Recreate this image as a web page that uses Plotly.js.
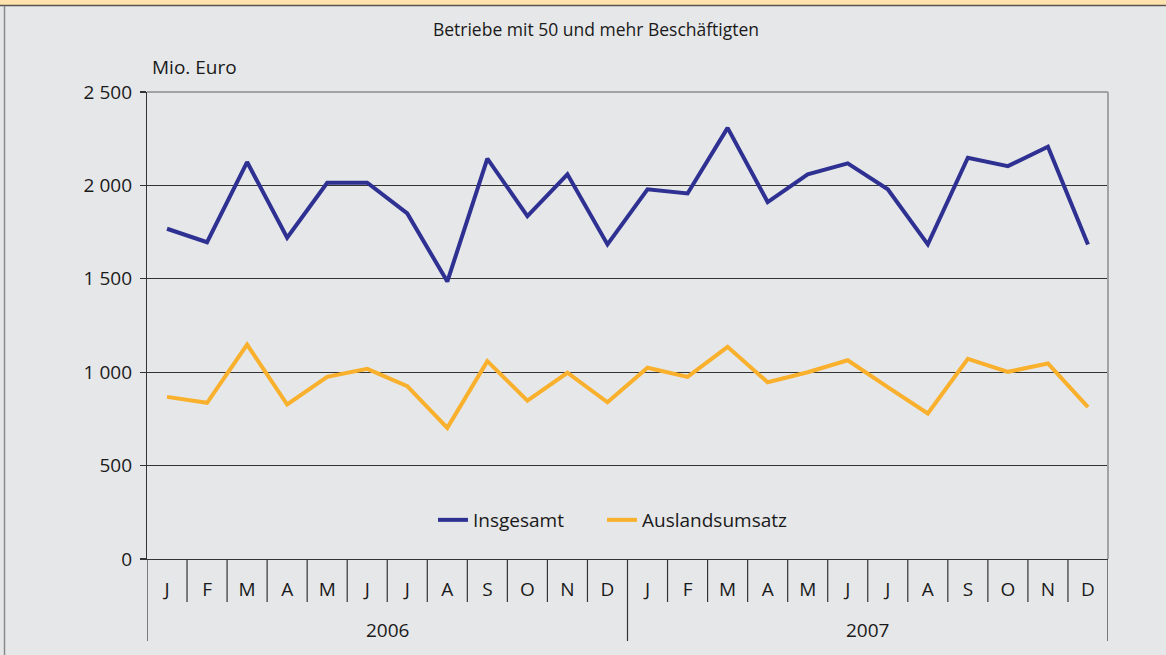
<!DOCTYPE html>
<html>
<head>
<meta charset="utf-8">
<script src="https://cdn.plot.ly/plotly-3.0.1.min.js"></script>
<style>html,body{margin:0;padding:0;background:#E6E7E9;}#chart{width:1166px;height:655px;}</style>
</head>
<body>
<div id="chart"></div>
<script>
const months = ['J','F','M','A','M','J','J','A','S','O','N','D'];
const years = ['2006','2007'];
const insgesamt = [1768,1696,2125,1720,2014,2014,1850,1485,2143,1836,2059,1684,
                   1979,1957,2308,1911,2059,2118,1979,1684,2148,2103,2207,1684];
const ausland = [868,836,1148,827,975,1018,925,702,1059,848,997,839,
                 1024,975,1136,946,1000,1064,920,779,1072,1002,1047,813];
const yTickVals = [0,500,1000,1500,2000,2500];
const yTickText = ['0','500','1 000','1 500','2 000','2 500'];
const seriesNames = ['Insgesamt','Auslandsumsatz'];
const chartTitle = 'Betriebe mit 50 und mehr Beschäftigten';
const unitLabel = 'Mio. Euro';

const W = 1166, H = 655, L = 147, R = 58, T = 92, B = 96;
const pw = W - L - R, ph = H - T - B;
const px = x => (x - L) / pw;
const py = y => (H - B - y) / ph;

const n = months.length * years.length;
const xs = Array.from({length: n}, (_, i) => i);
const tickText = xs.map(i => months[i % months.length]);

const font = 'Open Sans, sans-serif';
const FS = 19;
const traces = [
  {x: xs, y: insgesamt, name: seriesNames[0], type: 'scatter', mode: 'lines', legend: 'legend',
   line: {color: '#2E3192', width: 4}},
  {x: xs, y: ausland, name: seriesNames[1], type: 'scatter', mode: 'lines', legend: 'legend2',
   line: {color: '#F9B02C', width: 4}}
];

const shapes = [];
// frame
shapes.push({type: 'rect', xref: 'paper', yref: 'paper', x0: px(0), x1: px(W), y0: py(0), y1: py(5),
  fillcolor: '#FFE3AE', line: {width: 0}});
shapes.push({type: 'line', xref: 'paper', yref: 'paper', x0: px(0), x1: px(W), y0: py(5.5), y1: py(5.5),
  line: {color: '#5A5550', width: 1.5}});
shapes.push({type: 'line', xref: 'paper', yref: 'paper', x0: px(4.5), x1: px(4.5), y0: py(6), y1: py(H),
  line: {color: '#8A8A8A', width: 1.5}});
// plot top and right border (grey)
shapes.push({type: 'line', xref: 'paper', yref: 'paper', x0: 0, x1: 1, y0: 1, y1: 1,
  line: {color: '#A3A3A3', width: 2}});
shapes.push({type: 'line', xref: 'paper', yref: 'paper', x0: 1, x1: 1, y0: 0, y1: 1,
  line: {color: '#A3A3A3', width: 2}});
// month dividers and year dividers
for (let i = 0; i <= n; i++) {
  const isYear = i % months.length === 0;
  shapes.push({type: 'line', xref: 'x', yref: 'paper', x0: i - 0.5, x1: i - 0.5,
    y0: 0, y1: py(isYear ? 641 : 602), line: {color: '#333333', width: 1.2}});
}

const annotations = [];
annotations.push({xref: 'paper', yref: 'paper', x: px(150), y: py(67), xanchor: 'left', yanchor: 'middle',
  text: unitLabel, showarrow: false, font: {family: font, size: FS, color: '#1a1a1a'}});
years.forEach((yr, k) => {
  annotations.push({xref: 'x', yref: 'paper', x: k * months.length + (months.length - 1) / 2, y: py(630),
    xanchor: 'center', yanchor: 'middle', text: yr, showarrow: false,
    font: {family: font, size: FS, color: '#1a1a1a'}});
});

const legendBase = {orientation: 'h', xanchor: 'left', yanchor: 'middle', y: py(520),
  bgcolor: 'rgba(0,0,0,0)', font: {family: font, size: FS, color: '#1a1a1a'}};

const layout = {
  width: W, height: H,
  margin: {l: L, r: R, t: T, b: B, pad: 0},
  paper_bgcolor: '#E6E7E9', plot_bgcolor: '#E6E7E9',
  title: {text: chartTitle, xref: 'container', x: 596 / W, xanchor: 'center', yref: 'container',
    y: 1 - 30 / H, yanchor: 'middle',
    font: {family: font, size: 17.5, color: '#1a1a1a'}},
  showlegend: true,
  legend: Object.assign({}, legendBase, {x: px(433)}),
  legend2: Object.assign({}, legendBase, {x: px(602)}),
  xaxis: {range: [-0.5, n - 0.5], tickvals: xs, ticktext: tickText, ticks: '',
    showgrid: false, zeroline: false, showline: true, linecolor: '#333333', linewidth: 1.2,
    ticklabelstandoff: 13, tickfont: {family: font, size: FS, color: '#1a1a1a'}, fixedrange: true},
  yaxis: {range: [0, 2500], tickvals: yTickVals, ticktext: yTickText, ticks: 'outside', ticklen: 6,
    tickcolor: '#333333', tickwidth: 1.2, showgrid: true, gridcolor: '#333333', gridwidth: 1.2,
    zeroline: false, showline: true, linecolor: '#333333', linewidth: 1.2,
    ticklabelstandoff: 4, tickfont: {family: font, size: FS, color: '#1a1a1a'}, fixedrange: true},
  shapes: shapes,
  annotations: annotations
};

Plotly.newPlot('chart', traces, layout, {displayModeBar: false, staticPlot: true});
</script>
</body>
</html>
